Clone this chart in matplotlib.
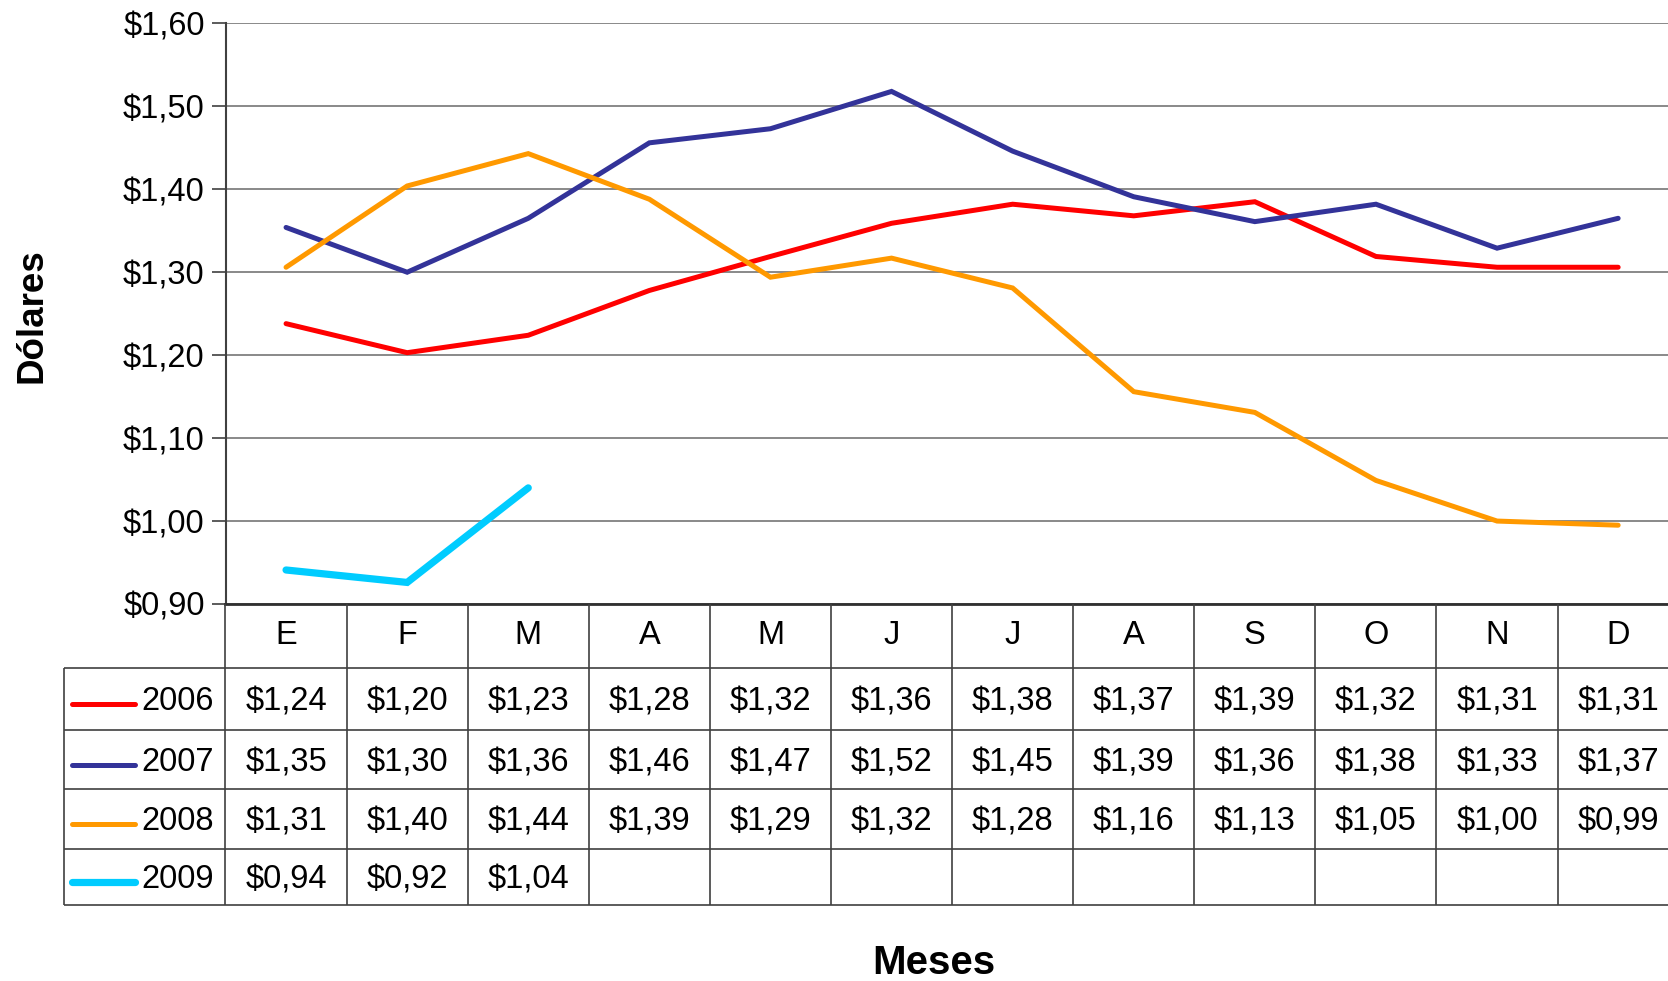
import numpy as np
import matplotlib
matplotlib.use("Agg")
import matplotlib.pyplot as plt

plt.rcParams['font.family'] = ['Liberation Sans', 'DejaVu Sans']

months = ["E", "F", "M", "A", "M", "J", "J", "A", "S", "O", "N", "D"]
years = ["2006", "2007", "2008", "2009"]
colors = ["#FF0000", "#333399", "#FF9900", "#00CCFF"]
widths = [3.6, 3.6, 3.6, 5.2]

v2006 = [1.238, 1.203, 1.224, 1.278, 1.319, 1.359, 1.382, 1.368, 1.385, 1.319, 1.306, 1.306]
v2007 = [1.354, 1.300, 1.365, 1.456, 1.473, 1.518, 1.446, 1.391, 1.361, 1.382, 1.329, 1.365]
v2008 = [1.306, 1.404, 1.443, 1.388, 1.294, 1.317, 1.281, 1.156, 1.131, 1.049, 1.000, 0.995]
v2009 = [0.941, 0.926, 1.040]
series = [v2006, v2007, v2008, v2009]

lab2006 = ["$1,24", "$1,20", "$1,23", "$1,28", "$1,32", "$1,36", "$1,38", "$1,37", "$1,39", "$1,32", "$1,31", "$1,31"]
lab2007 = ["$1,35", "$1,30", "$1,36", "$1,46", "$1,47", "$1,52", "$1,45", "$1,39", "$1,36", "$1,38", "$1,33", "$1,37"]
lab2008 = ["$1,31", "$1,40", "$1,44", "$1,39", "$1,29", "$1,32", "$1,28", "$1,16", "$1,13", "$1,05", "$1,00", "$0,99"]
lab2009 = ["$0,94", "$0,92", "$1,04"]
labels = [lab2006, lab2007, lab2008, lab2009]

yticks = [0.9, 1.0, 1.1, 1.2, 1.3, 1.4, 1.5, 1.6]
ytick_labels = ["$0,90", "$1,00", "$1,10", "$1,20", "$1,30", "$1,40", "$1,50", "$1,60"]

FW, FH = 1668, 981
fig = plt.figure(figsize=(FW / 100, FH / 100), dpi=100)

left_px, top_px, bot_px, table_bot_px = 225.5, 23.4, 604, 905
colw_px = 121.1
L = left_px / FW
W = 12 * colw_px / FW
ax = fig.add_axes([L, 1 - bot_px / FH, W, (bot_px - top_px) / FH])

x = np.arange(12)
for vals, c, lw in zip(series, colors, widths):
    ax.plot(x[:len(vals)], vals, color=c, lw=lw, solid_capstyle='round', solid_joinstyle='miter', zorder=3)

ax.set_xlim(-0.5, 11.5)
ax.set_ylim(0.9, 1.6)
ax.set_yticks(yticks)
ax.set_yticklabels(ytick_labels, fontsize=23.5)
ax.set_xticks([])
ax.yaxis.grid(True, color='#808080', lw=1.3)
ax.set_axisbelow(True)
for s in ['top', 'right']:
    ax.spines[s].set_visible(False)
ax.spines['left'].set_color('#404040')
ax.spines['left'].set_linewidth(1.5)
ax.spines['bottom'].set_color('#303030')
ax.spines['bottom'].set_linewidth(2)
ax.tick_params(axis='y', length=10, width=1.2, color='#404040', pad=5)

# data table (row edges in relative units, top = 0)
row_edges = [0, 64, 126, 185, 245, 301]
tx = fig.add_axes([L, 1 - table_bot_px / FH, W, (table_bot_px - bot_px) / FH], sharex=ax)
tx.set_ylim(row_edges[-1], 0)
tx.axis('off')
leg_left = -0.5 - (left_px - 64) / colw_px
lc = '#404040'
for k in range(13):
    tx.vlines(k - 0.5, row_edges[0], row_edges[-1], color=lc, lw=1.2, clip_on=False)
tx.vlines(leg_left, row_edges[1], row_edges[-1], color=lc, lw=1.2, clip_on=False)
for r in row_edges[1:]:
    tx.hlines(r, leg_left, 11.5, color=lc, lw=1.2, clip_on=False)

fs = 23.5
for i, m in enumerate(months):
    tx.text(i, (row_edges[0] + row_edges[1]) / 2, m, ha='center', va='center', fontsize=fs, clip_on=False)

seg_x0 = leg_left + (72 - 64) / colw_px
seg_x1 = leg_left + (135 - 64) / colw_px
lab_x = -0.5 - (left_px - 213.5) / colw_px
for r, (yr, c, lw, labs) in enumerate(zip(years, colors, widths, labels)):
    yc = (row_edges[r + 1] + row_edges[r + 2]) / 2
    tx.plot([seg_x0, seg_x1], [yc + 5, yc + 5], color=c, lw=lw, solid_capstyle='round', clip_on=False)
    tx.text(lab_x, yc + 3, yr, ha='right', va='center', fontsize=fs, clip_on=False)
    for i, s in enumerate(labs):
        tx.text(i, yc + 3, s, ha='center', va='center', fontsize=fs, clip_on=False)

fig.text(32 / FW, 1 - 316 / FH, "Dólares", rotation=90, ha='center', va='center',
         fontsize=26.5, fontweight='bold')
fig.text(934 / FW, 1 - 963 / FH, "Meses", ha='center', va='center',
         fontsize=29, fontweight='bold')

fig.savefig("out.png", dpi=100)
